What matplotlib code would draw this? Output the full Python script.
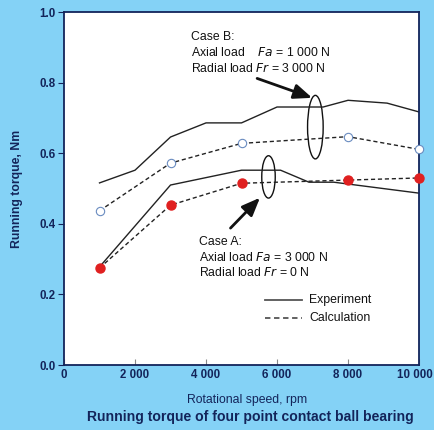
import numpy as np
from matplotlib import pyplot as plt
from matplotlib.patches import Ellipse
import matplotlib.transforms as mtransforms

#values
speed_exp_b = [1000, 2000, 3000, 4000, 5000, 6000, 7300, 8000, 9100, 10000]
torque_exp_b = [0.516, 0.552, 0.646, 0.686, 0.686, 0.731, 0.731, 0.750, 0.742, 0.717]
speed_calc = [1000, 3000, 5000, 8000, 10000]
torque_calc_b = [0.437, 0.572, 0.628, 0.647, 0.611]
speed_exp_a = [1000, 3000, 5000, 6100, 6900, 7600, 10000]
torque_exp_a = [0.278, 0.510, 0.552, 0.552, 0.518, 0.518, 0.487]
torque_calc_a = [0.275, 0.453, 0.515, 0.524, 0.530]

xticks = [0, 2000, 4000, 6000, 8000, 10000]
xticklabels = ['0', '2 000', '4 000', '6 000', '8 000', '10 000']
yticks = [0.0, 0.2, 0.4, 0.6, 0.8, 1.0]

bg = '#84d2f6'
navy = '#13245a'
fs = 8.8

plt.rcParams['font.family'] = ['Liberation Sans', 'DejaVu Sans']

fig = plt.figure(figsize=(4.34, 4.30), dpi=100, facecolor=bg)
ax = fig.add_axes([0.1475, 0.151, 0.818, 0.821])
ax.set_facecolor('white')

ax.plot(speed_exp_b, torque_exp_b, color='#222222', lw=1.0)
ax.plot(speed_calc, torque_calc_b, color='#222222', lw=1.0, linestyle=(0, (3, 2)),
        marker='o', ms=6, mfc='white', mec='#6a8cc0', mew=0.8, clip_on=False, zorder=3)
ax.plot(speed_exp_a, torque_exp_a, color='#222222', lw=1.0)
ax.plot(speed_calc, torque_calc_a, color='#222222', lw=1.0, linestyle=(0, (3, 2)),
        marker='o', ms=6.5, mfc='#e02020', mec='#e02020', clip_on=False, zorder=3)

#legend drawn by hand to match the reference
ax.plot([5650, 6700], [0.184, 0.184], color='#555555', lw=1.3)
ax.plot([5650, 6700], [0.133, 0.133], color='#555555', lw=1.3, linestyle=(0, (3, 2)))
ax.text(6900, 0.184, 'Experiment', fontsize=fs, va='center', color='#111111')
ax.text(6900, 0.133, 'Calculation', fontsize=fs, va='center', color='#111111')

#ellipses around the curve pairs
ax.add_patch(Ellipse((7080, 0.674), 440, 0.18, fill=False, color='#111111', lw=1.0))
ax.add_patch(Ellipse((5760, 0.533), 380, 0.12, fill=False, color='#111111', lw=1.0))

arrow = dict(arrowstyle='-|>,head_length=1.1,head_width=0.45', color='#111111', lw=2.0,
             shrinkA=0, shrinkB=0)
ax.annotate('', xy=(6990, 0.757), xytext=(5440, 0.812), arrowprops=arrow)
ax.annotate('', xy=(5520, 0.474), xytext=(4690, 0.388), arrowprops=arrow)

ax.text(3580, 0.928, 'Case B:', fontsize=fs, va='center', color='#111111')
ax.text(3580, 0.885, 'Axial load    $\\it{Fa}$ = 1 000 N', fontsize=fs, va='center', color='#111111')
ax.text(3580, 0.840, 'Radial load $\\it{Fr}$ = 3 000 N', fontsize=fs, va='center', color='#111111')

ax.text(3800, 0.348, 'Case A:', fontsize=fs, va='center', color='#111111')
ax.text(3800, 0.305, 'Axial load $\\it{Fa}$ = 3 000 N', fontsize=fs, va='center', color='#111111')
ax.text(3800, 0.261, 'Radial load $\\it{Fr}$ = 0 N', fontsize=fs, va='center', color='#111111')

ax.set_xlim(0, 10000)
ax.set_ylim(0, 1.0)
ax.set_xticks(xticks)
ax.set_xticklabels(xticklabels)
ax.set_yticks(yticks)
ax.set_yticklabels(['%.1f' % v for v in yticks])
ax.tick_params(axis='x', direction='in', length=4, color='#888888', labelsize=8.3, labelcolor=navy, pad=3)
ax.tick_params(axis='y', direction='out', length=4, color=navy, labelsize=8.3, labelcolor=navy, pad=2)
for lab in ax.get_xticklabels() + ax.get_yticklabels():
    lab.set_fontweight('bold')
#nudge the last x label so it stays inside the figure
last = ax.get_xticklabels()[-1]
last.set_transform(last.get_transform() + mtransforms.ScaledTranslation(-4 / 100, 0, fig.dpi_scale_trans))
for sp in ax.spines.values():
    sp.set_color(navy)
    sp.set_linewidth(1.3)

ax.set_ylabel('Running torque, Nm', fontsize=fs, color=navy, fontweight='bold', labelpad=12)
fig.text(247 / 434, 1 - 400 / 430, 'Rotational speed, rpm', fontsize=fs, color=navy,
         ha='center', va='center')
fig.text(250 / 434, 1 - 417 / 430, 'Running torque of four point contact ball bearing', fontsize=10.1,
         color=navy, ha='center', va='center', fontweight='bold')

fig.savefig('out.png', dpi=100, facecolor=bg)
